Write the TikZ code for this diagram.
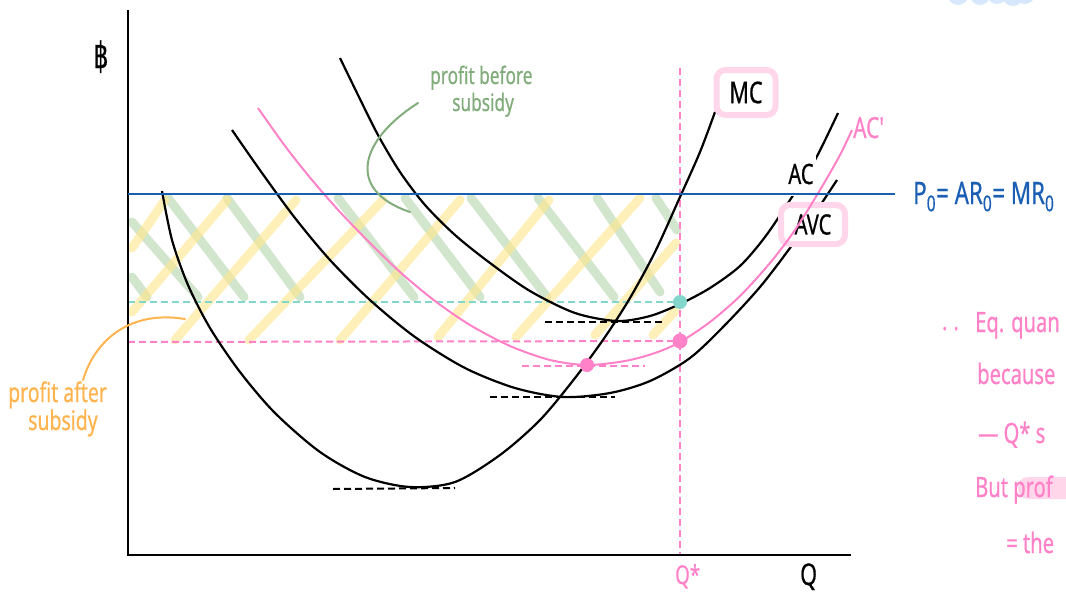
\documentclass[tikz,border=0pt]{standalone}
\usepackage{fontspec}
\setmainfont{Noto Sans}
\newfontfamily\hand[FakeStretch=0.72,FakeBold=0.6]{Noto Sans}
\newfontfamily\bahtfont[FakeStretch=0.65,FakeBold=0.6]{DejaVu Sans}
\newcommand\fsz[1]{\fontsize{#1}{#1}\selectfont}
\definecolor{cblue}{RGB}{26,95,180}
\definecolor{cpink}{RGB}{255,130,200}
\definecolor{cpinklight}{RGB}{255,214,234}
\definecolor{cteal}{RGB}{130,214,204}
\definecolor{cgreentext}{RGB}{130,172,124}
\definecolor{corange}{RGB}{255,180,80}
\definecolor{chgreen}{RGB}{180,213,172}
\definecolor{chyellow}{RGB}{255,230,138}
\definecolor{cblob}{RGB}{215,232,252}
\begin{document}
\begin{tikzpicture}[x=1pt,y=-1pt,
 hatchg/.style={line width=9pt, line cap=round, draw=chgreen, opacity=0.6},
 hatchy/.style={line width=9pt, line cap=round, draw=chyellow, opacity=0.6},
 curveb/.style={line width=2.2pt, draw=black},
 curvep/.style={line width=2pt, draw=cpink},
 dashb/.style={line width=2pt, draw=black, dash pattern=on 7pt off 4pt},
 dashp/.style={line width=2pt, draw=cpink, dash pattern=on 7pt off 4pt},
 dasht/.style={line width=2pt, draw=cteal, dash pattern=on 7pt off 4pt},
 lbl/.style={inner sep=0pt, font=\hand},
 pbox/.style={draw=cpinklight, line width=6pt, rounded corners=9pt, fill=white, inner sep=0pt, font=\hand}
]
\useasboundingbox (0,0) rectangle (1066,597);
\clip (0,0) rectangle (1066,597);

% blue blob at top right
\fill[cblob] (958,-6) circle (11) (980,-5) circle (10) (997,-6) circle (10) (1013,-5) circle (11) (1025,-6) circle (10);

% green hatching (profit before subsidy)
\foreach \xa/\ya/\xb/\yb in {132/222/198/297, 132/277/147/297, 168/198/244/297, 227/198/300/297, 338/198/414/297, 405/198/480/297, 471/198/547/297, 538/198/614/297, 597/198/660/292, 656/198/677/230}
  \draw[hatchg] (\xa,\ya) -- (\xb,\yb);
% yellow hatching (profit after subsidy)
\foreach \xa/\ya/\xb/\yb in {132/248/165/200, 132/312/227/200, 175/340/296/200, 249/340/383/200, 340/340/460/200, 438/337/549/200, 516/337/640/198, 595/335/676/243, 653/335/676/310}
  \draw[hatchy] (\xa,\ya) -- (\xb,\yb);

% dashed horizontals and Q* vertical
\draw[dasht] (128,302) -- (680,302);
\draw[dashp] (128,342) -- (680,341);
\draw[dashp] (680,68) -- (680,555);

% axes
\draw[line width=2.5pt] (128,10) -- (128,555) -- (851,555);

% AVC
\draw[curveb] plot[smooth] coordinates {(232,130) (262,173) (295,218) (330,260) (370,300) (415,337) (465,368) (515,388) (563,397) (610,393) (650,381) (690,358) (725,325) (760,287) (790,248) (815,213) (837,180)};
% AC
\draw[curveb] plot[smooth] coordinates {(340,58) (358,95) (378,135) (400,172) (425,205) (455,235) (490,263) (530,291) (575,313) (617,321) (650,316) (680,304) (710,288) (740,266) (765,237) (790,200) (815,160) (838,113)};
% MC
\draw[curveb] plot[smooth] coordinates {(162,191) (172,240) (188,285) (210,328) (240,372) (275,413) (320,452) (365,477) (410,487) (455,482) (500,455) (540,420) (575,378) (605,337) (630,298) (655,252) (680,197) (700,152) (715,112)};

% AC label with white background
\node[lbl, fill=white, minimum width=30pt, minimum height=44pt] (ac) at (801,174) {\fsz{28}AC};
% AVC box
\node[pbox, minimum width=64pt, minimum height=39pt] (avc) at (813,224.5) {\fsz{28}AVC};

% AC'
\draw[curvep] plot[smooth] coordinates {(258,108) (285,146) (312,180) (340,212) (370,243) (400,272) (435,301) (470,325) (510,346) (550,360) (587,365) (625,361) (655,353) (680,342) (710,322) (740,296) (770,263) (795,230) (820,190) (840,155) (852,130)};

% price line
\draw[line width=2.4pt, draw=cblue] (128,194) -- (895,194);

% minimum tangents
\draw[dashb] (545,322) -- (665,322);
\draw[dashb] (490,397) -- (615,397);
\draw[dashb] (333,489) -- (455,488);
\draw[dashp] (522,366) -- (645,366);

% dots
\fill[cteal] (680,302) circle (7);
\fill[cpink] (680,341) circle (7.5);
\fill[cpink] (587,365) circle (7);

% MC box
\node[pbox, minimum width=59pt, minimum height=45pt] (mc) at (746,92.5) {\fsz{30}MC};

% labels
\node[inner sep=0pt, anchor=base] (baht) at (101,68) {\bahtfont\fsz{36}฿};
\node[lbl, anchor=base west, text=cpink] (acp) at (853,138) {\fsz{29}AC'};
\node[lbl, anchor=base west, text=cblue] (p0) at (913,204) {\fsz{31}P\textsubscript{0}= AR\textsubscript{0}= MR\textsubscript{0}};
\node[lbl, anchor=base west, text=cpink] (qstar) at (675,584) {\fsz{26}Q*};
\node[lbl, anchor=base west] (q) at (800,585) {\fsz{30}Q};

% profit before subsidy
\node[lbl, anchor=base west, text=cgreentext] (pb1) at (430,84) {\fsz{24}profit before};
\node[lbl, anchor=base west, text=cgreentext] (pb2) at (452,111) {\fsz{24}subsidy};
\coordinate (pbend) at (410,212);
\draw[line width=2pt, draw=cgreentext, line cap=round] (418,103) .. controls (360,140) and (345,190) .. (pbend);

% profit after subsidy
\node[lbl, anchor=base west, text=corange] (pa1) at (8,402) {\fsz{27}profit after};
\node[lbl, anchor=base west, text=corange] (pa2) at (28,430) {\fsz{27}subsidy};
\coordinate (paend) at (185,319);
\draw[line width=2pt, draw=corange, line cap=round] (paend) .. controls (130,310) and (95,340) .. (83,380);

% right-hand notes
\fill[cpinklight, rounded corners=10pt] (1018,477) rectangle (1080,499);
\node[lbl, anchor=base west, text=cpink] (n0) at (942,330) {\fsz{26}. .};
\node[lbl, anchor=base west, text=cpink] (n1) at (975,332) {\fsz{28}Eq. quan};
\node[lbl, anchor=base west, text=cpink] (n2) at (977,384) {\fsz{28}because};
\node[lbl, anchor=base west, text=cpink] (n3) at (978,443) {\fsz{28}— Q* s};
\node[lbl, anchor=base west, text=cpink] (n4) at (975,497) {\fsz{28}But prof};
\node[lbl, anchor=base west, text=cpink] (n5) at (1006,553) {\fsz{28}= the};
\end{tikzpicture}
\end{document}
